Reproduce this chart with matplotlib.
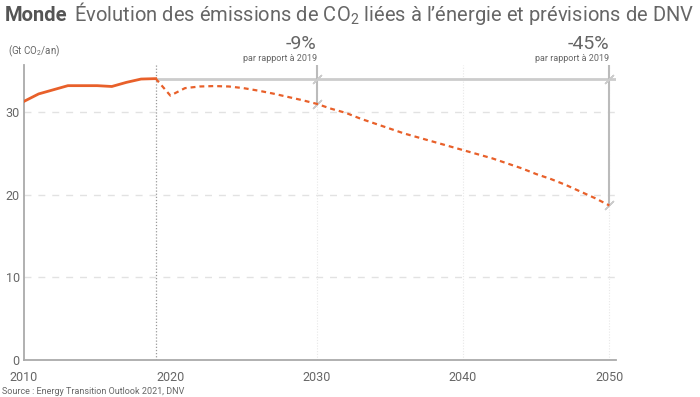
import matplotlib
matplotlib.use("Agg")
import matplotlib.pyplot as plt

# ---- data ----
hist_years = [2010, 2011, 2012, 2013, 2014, 2015, 2016, 2017, 2018, 2019]
hist_values = [31.3, 32.2, 32.7, 33.2, 33.2, 33.2, 33.1, 33.6, 34.0, 34.05]
fc_years = [2019, 2020, 2021, 2022, 2023, 2024, 2025, 2026, 2027, 2028, 2029,
            2030, 2031, 2032, 2033, 2034, 2035, 2036, 2037, 2038, 2039, 2040,
            2041, 2042, 2043, 2044, 2045, 2046, 2047, 2048, 2049, 2050]
fc_values = [34.05, 32.0, 32.9, 33.1, 33.15, 33.1, 32.9, 32.6, 32.25, 31.85, 31.45,
             31.0, 30.4, 29.9, 29.2, 28.6, 28.0, 27.4, 26.9, 26.4, 25.9, 25.4,
             24.9, 24.4, 23.8, 23.2, 22.5, 21.9, 21.2, 20.4, 19.6, 18.7]
ref_year = 2019
marker_years = [2030, 2050]
marker_labels = ["-9%", "-45%"]
x_ticks = [2010, 2020, 2030, 2040, 2050]
y_ticks = [0, 10, 20, 30]

ORANGE = "#e8602a"
GRAY = "#666666"
FONT = "Roboto"

plt.rcParams['font.family'] = [FONT, 'DejaVu Sans']
plt.rcParams['mathtext.fontset'] = 'custom'
plt.rcParams['mathtext.rm'] = FONT
plt.rcParams['mathtext.bf'] = FONT + ':bold'

fig = plt.figure(figsize=(7.0, 3.97), dpi=100)
ax = fig.add_axes([24/700, 1-360/397, (616-24)/700, (360-65)/397])
ax.set_xlim(2010, 2050.45)
ax.set_ylim(0, 35.7)

for s in ["top", "right"]:
    ax.spines[s].set_visible(False)
for s in ["left", "bottom"]:
    ax.spines[s].set_color("#aaaaaa")
    ax.spines[s].set_linewidth(1.3)

ax.set_xticks(x_ticks)
ax.set_yticks(y_ticks)
ax.tick_params(length=0, colors=GRAY, labelsize=9)
ax.tick_params(axis='x', pad=8)
ax.tick_params(axis='y', pad=3)
for y in y_ticks[1:]:
    ax.axhline(y, color="#e2e2e2", lw=1, ls=(0, (5, 5)), zorder=0)
for x in x_ticks[2:]:
    ax.axvline(x, color="#e8e8e8", lw=0.8, ls=(0, (1, 1.5)), zorder=0)

# reference year dotted line
ax.axvline(ref_year, color="#999999", lw=0.9, ls=(0, (1, 1.5)), zorder=1)

# comparison structures
ref_val = hist_values[hist_years.index(ref_year)]
ax.plot([ref_year, 2050.45], [ref_val, ref_val], color="#cccccc", lw=2, zorder=2,
        solid_capstyle="butt")
for yr, lab in zip(marker_years, marker_labels):
    v = fc_values[fc_years.index(yr)]
    ax.plot([yr, yr], [v, 35.7], color="#bbbbbb", lw=1.5, zorder=2)
    ax.plot([yr, yr], [ref_val, v], ls="none", marker=(2, 2, -45), ms=9,
            mec="#cccccc", mew=1, zorder=3)
    ax.text(yr, 37.2, lab, ha="right", va="bottom", fontsize=14, color=GRAY,
            clip_on=False)
    ax.text(yr, 36.0, "par rapport à 2019", ha="right", va="bottom", fontsize=6.5,
            color=GRAY, clip_on=False)

ax.plot(hist_years, hist_values, color=ORANGE, lw=2, zorder=4)
ax.plot(fc_years, fc_values, color=ORANGE, lw=1.6, ls=(0, (2.2, 1.8)), zorder=4)

# ---- title, fitted to the width ----
base_y = 1 - 21/397
size = 15.0
t1 = fig.text(5/700, base_y, "Monde", fontsize=size, color="#555555",
              weight="bold", va="baseline", ha="left")
t2 = fig.text(0, base_y, "Évolution des émissions de CO$_2$ liées à l’énergie et prévisions de DNV",
              fontsize=size, color="#666666", va="baseline", ha="left")
fig.canvas.draw()
r = fig.canvas.get_renderer()
w1 = t1.get_window_extent(r).width
w2 = t2.get_window_extent(r).width
gap = 6
scale = (690 - gap) / (w1 + w2)
t1.set_fontsize(size * scale)
t2.set_fontsize(size * scale)
fig.canvas.draw()
e1 = t1.get_window_extent(r)
t2.set_x((e1.x1 + gap) / 700)

fig.text(8/700, 1-54/397, r"(Gt CO$_2$/an)", fontsize=7, color=GRAY, va="baseline")
fig.text(2/700, 1-394/397, "Source : Energy Transition Outlook 2021, DNV", fontsize=6.5,
         color=GRAY, va="baseline")

fig.savefig("out.png", dpi=100)
